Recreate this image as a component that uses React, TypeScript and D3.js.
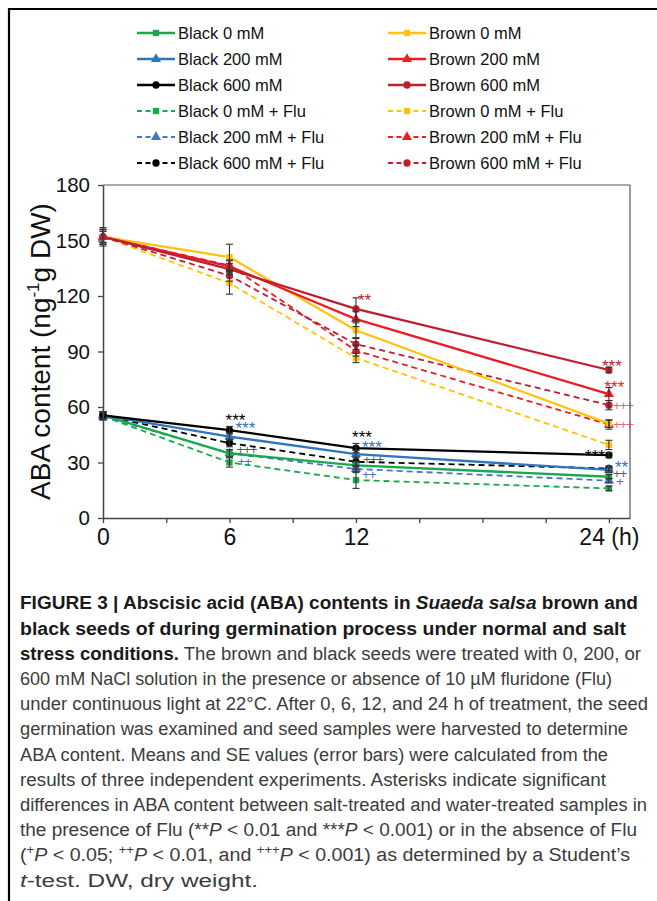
import React, { useRef, useEffect } from 'react'
import * as d3 from 'd3'

// time points (h) and axis ticks
const HOURS = [0, 6, 12, 24]
const X_TICKS = [0, 3, 6, 9, 12, 15, 18, 21, 24]
const X_TICK_LABELS = ['0', '', '6', '', '12', '', '', '', '24 (h)']
const Y_TICKS = [0, 30, 60, 90, 120, 150, 180]

// ABA content, ng/g DW (means)
const BLACK_0 = [55.5, 35, 28.5, 22.3]
const BLACK_200 = [55.5, 44, 34.5, 26]
const BLACK_600 = [55.5, 47.5, 37.8, 34]
const BLACK_0_FLU = [55, 30, 20.5, 16]
const BLACK_200_FLU = [55, 35, 26.5, 20.2]
const BLACK_600_FLU = [55.5, 40.5, 30.4, 26.8]
const BROWN_0 = [152, 141, 101.5, 51]
const BROWN_200 = [152, 136, 107.5, 67]
const BROWN_600 = [152, 134.5, 113, 80]
const BROWN_0_FLU = [152, 127, 86.5, 39.5]
const BROWN_200_FLU = [152, 136.5, 90.5, 50.5]
const BROWN_600_FLU = [152, 131, 94, 61]

// standard errors
const BLACK_0_SE = [2, 2, 2, 1.2]
const BLACK_200_SE = [2, 2, 2, 1.5]
const BLACK_600_SE = [2, 2, 2.5, 1.5]
const BLACK_0_FLU_SE = [2, 2.5, 4.5, 1.2]
const BLACK_200_FLU_SE = [2, 2, 2, 1.2]
const BLACK_600_FLU_SE = [2, 2, 2.5, 1.2]
const BROWN_0_SE = [5, 7, 4, 2]
const BROWN_200_SE = [4, 3, 4, 3.5]
const BROWN_600_SE = [4, 3, 6, 1.5]
const BROWN_0_FLU_SE = [4, 6, 2.5, 2.5]
const BROWN_200_FLU_SE = [3, 3, 3, 2.5]
const BROWN_600_FLU_SE = [3, 3, 3, 2.5]

const SERIES = [
  { name: 'Black 0 mM', values: BLACK_0, se: BLACK_0_SE },
  { name: 'Black 200 mM', values: BLACK_200, se: BLACK_200_SE },
  { name: 'Black 600 mM', values: BLACK_600, se: BLACK_600_SE },
  { name: 'Black 0 mM + Flu', values: BLACK_0_FLU, se: BLACK_0_FLU_SE },
  { name: 'Black 200 mM  + Flu', values: BLACK_200_FLU, se: BLACK_200_FLU_SE },
  { name: 'Black 600 mM  + Flu', values: BLACK_600_FLU, se: BLACK_600_FLU_SE },
  { name: 'Brown 0 mM', values: BROWN_0, se: BROWN_0_SE },
  { name: 'Brown 200 mM', values: BROWN_200, se: BROWN_200_SE },
  { name: 'Brown 600 mM', values: BROWN_600, se: BROWN_600_SE },
  { name: 'Brown 0 mM + Flu', values: BROWN_0_FLU, se: BROWN_0_FLU_SE },
  { name: 'Brown 200 mM + Flu', values: BROWN_200_FLU, se: BROWN_200_FLU_SE },
  { name: 'Brown 600 mM + Flu', values: BROWN_600_FLU, se: BROWN_600_FLU_SE },
]

// significance marks: series index, hour, mark
const SIG_SERIES = [2, 1, 5, 4, 2, 1, 5, 4, 8, 8, 7, 11, 10, 2, 1, 5, 4]
const SIG_HOURS = [6, 6, 6, 6, 12, 12, 12, 12, 12, 24, 24, 24, 24, 24, 24, 24, 24]
const SIG_MARKS = ['***', '***', '+++', '++', '***', '***', '+++', '++', '**', '***', '***', '+++', '+++', '***', '**', '++', '+']

// drawing style per series (same order as SERIES)
const STYLE = [
  { color: '#1aa84b', dash: false, shape: d3.symbolSquare },
  { color: '#2f76c0', dash: false, shape: d3.symbolTriangle },
  { color: '#000000', dash: false, shape: d3.symbolCircle },
  { color: '#1aa84b', dash: true, shape: d3.symbolSquare },
  { color: '#4a74c4', dash: true, shape: d3.symbolTriangle },
  { color: '#000000', dash: true, shape: d3.symbolCircle },
  { color: '#ffc20e', dash: false, shape: d3.symbolSquare },
  { color: '#ec1c24', dash: false, shape: d3.symbolTriangle },
  { color: '#be1e2d', dash: false, shape: d3.symbolCircle },
  { color: '#ffc20e', dash: true, shape: d3.symbolSquare },
  { color: '#ec1c24', dash: true, shape: d3.symbolTriangle },
  { color: '#be1e2d', dash: true, shape: d3.symbolCircle },
]
// label offset from its point (px) and anchor
const SIG_OFFSET = [
  [6, -14], [6, -12], [7, 6], [8, 8],
  [6, -15], [6, -11], [7, -3], [6, 5], [2, -13],
  [3, -8], [5.5, -11], [4, 0], [4, 0],
  [-4, -3], [6, -7], [4, 5], [7, 1],
]
const SIG_ANCHOR = ['middle', 'start', 'start', 'start', 'middle', 'start', 'start', 'start', 'start',
  'middle', 'middle', 'start', 'start', 'end', 'start', 'start', 'start']

const CAPTION = [
  [{ t: 'FIGURE 3 | Abscisic acid (ABA) contents in ', b: 1 }, { t: 'Suaeda salsa', b: 1, i: 1 }, { t: ' brown and', b: 1 }],
  [{ t: 'black seeds of during germination process under normal and salt', b: 1 }],
  [{ t: 'stress conditions.', b: 1 }, { t: ' The brown and black seeds were treated with 0, 200, or' }],
  [{ t: '600 mM NaCl solution in the presence or absence of 10 \u00b5M fluridone (Flu)' }],
  [{ t: 'under continuous light at 22\u00b0C. After 0, 6, 12, and 24 h of treatment, the seed' }],
  [{ t: 'germination was examined and seed samples were harvested to determine' }],
  [{ t: 'ABA content. Means and SE values (error bars) were calculated from the' }],
  [{ t: 'results of three independent experiments. Asterisks indicate significant' }],
  [{ t: 'differences in ABA content between salt-treated and water-treated samples in' }],
  [{ t: 'the presence of Flu (**' }, { t: 'P', i: 1 }, { t: ' < 0.01 and ***' }, { t: 'P', i: 1 }, { t: ' < 0.001) or in the absence of Flu' }],
  [{ t: '(' }, { t: '+', sup: 1 }, { t: 'P', i: 1 }, { t: ' < 0.05; ' }, { t: '++', sup: 1 }, { t: 'P', i: 1 }, { t: ' < 0.01, and ' }, { t: '+++', sup: 1 }, { t: 'P', i: 1 }, { t: ' < 0.001) as determined by a Student\u2019s' }],
  [{ t: 't', i: 1 }, { t: '-test. DW, dry weight.' }],
]
const CAPTION_WIDTHS = [618, 606, 621, 592, 628, 608, 588, 586, 627, 617, 610, 238]

const FONT = 'Liberation Sans, Arial, Helvetica, sans-serif'
const W = 657
const H = 901

export default function App() {
  const xAxisRef = useRef<SVGGElement>(null)
  const yAxisRef = useRef<SVGGElement>(null)

  const x = d3.scaleLinear().domain([0, 25]).range([103, 630])
  const y = d3.scaleLinear().domain([0, 180]).range([518, 185])

  useEffect(() => {
    const xa = d3.axisBottom(x).tickValues(X_TICKS).tickSize(5).tickSizeOuter(0).tickPadding(6)
      .tickFormat((d, i) => X_TICK_LABELS[i])
    const gx = d3.select(xAxisRef.current).call(xa as any)
    gx.selectAll('text').style('font-size', '23px').style('font-family', FONT).attr('fill', '#111')
    gx.selectAll('line').attr('stroke', '#444').attr('stroke-width', 1.3)
    gx.select('.domain').attr('stroke', '#444').attr('stroke-width', 1.5)

    const ya = d3.axisLeft(y).tickValues(Y_TICKS).tickSize(5).tickSizeOuter(0).tickPadding(8)
    const gy = d3.select(yAxisRef.current).call(ya as any)
    gy.selectAll('text').style('font-size', '20.5px').style('font-family', FONT).attr('fill', '#111')
    gy.selectAll('line').attr('stroke', '#444').attr('stroke-width', 1.3)
    gy.select('.domain').attr('stroke', '#444').attr('stroke-width', 1.5)
  }, [])

  const line = d3.line<number>().x((_, i) => x(HOURS[i])).y(d => y(d))
  const symbolPath = (shape: any, size: number) => d3.symbol().type(shape).size(size)() as string
  const markerSize = (shape: any) => (shape === d3.symbolCircle ? 42 : shape === d3.symbolTriangle ? 44 : 40)

  // dashed series first, solid on top
  const order = [3, 4, 5, 9, 10, 11, 0, 1, 2, 6, 7, 8]

  return (
    <div style={{ position: 'absolute', left: 0, top: 0 }}>
      <svg width={W} height={H} style={{ display: 'block', background: '#fff' }}>
        {/* figure frame */}
        <line x1={8} x2={W} y1={9} y2={9} stroke="#000" strokeWidth={2.2} />
        <line x1={9} x2={9} y1={8} y2={H} stroke="#000" strokeWidth={2.2} />

        {/* legend */}
        {SERIES.map((s, i) => {
          const col = i < 6 ? 0 : 1
          const row = i % 6
          const x0 = col === 0 ? 137 : 388
          const ly = 33 + row * 26
          const st = STYLE[i]
          return (
            <g key={'lg' + i}>
              <line x1={x0} x2={x0 + 38} y1={ly} y2={ly} stroke={st.color}
                strokeWidth={st.dash ? 2 : 2.4} strokeDasharray={st.dash ? '5,3.5' : undefined} />
              <path d={symbolPath(st.shape, markerSize(st.shape))} transform={`translate(${x0 + 19},${ly})`} fill={st.color} />
              <text x={x0 + 41} y={ly} dy="0.36em" fontFamily={FONT} fontSize={16.5} fill="#111">{s.name}</text>
            </g>
          )
        })}

        {/* plot box */}
        <line x1={x(0)} x2={x(25)} y1={y(180)} y2={y(180)} stroke="#555" strokeWidth={1.2} />
        <line x1={x(25)} x2={x(25)} y1={y(180)} y2={y(0)} stroke="#555" strokeWidth={1.2} />

        {/* lines */}
        {order.map(i => (
          <path key={'ln' + i} d={line(SERIES[i].values) as string} fill="none" stroke={STYLE[i].color}
            strokeWidth={STYLE[i].dash ? 1.8 : 2.3} strokeDasharray={STYLE[i].dash ? '6,4' : undefined} />
        ))}

        {/* markers */}
        {order.map(i => SERIES[i].values.map((v, j) => (
          <path key={'mk' + i + '-' + j} d={symbolPath(STYLE[i].shape, markerSize(STYLE[i].shape))}
            transform={`translate(${x(HOURS[j])},${y(v)})`} fill={STYLE[i].color} />
        )))}

        {/* error bars */}
        {order.map(i => SERIES[i].values.map((v, j) => {
          const cx = x(HOURS[j])
          const top = y(v + SERIES[i].se[j])
          const bot = y(v - SERIES[i].se[j])
          return (
            <g key={'eb' + i + '-' + j} stroke="#333" strokeWidth={1.1}>
              <line x1={cx} x2={cx} y1={top} y2={bot} />
              <line x1={cx - 3.5} x2={cx + 3.5} y1={top} y2={top} />
              <line x1={cx - 3.5} x2={cx + 3.5} y1={bot} y2={bot} />
            </g>
          )
        }))}

        {/* significance marks */}
        {SIG_MARKS.map((m, k) => {
          const si = SIG_SERIES[k]
          const j = HOURS.indexOf(SIG_HOURS[k])
          const px = x(SIG_HOURS[k]) + SIG_OFFSET[k][0]
          const py = y(SERIES[si].values[j]) + SIG_OFFSET[k][1]
          const isPlus = m[0] === '+'
          const faded = isPlus && (si === 5 || (SIG_HOURS[k] === 24 && si >= 6))
          return (
            <text key={'sg' + k} x={px} y={py} dy={isPlus ? '0.36em' : '0.57em'} textAnchor={SIG_ANCHOR[k]}
              fontFamily={FONT} fontSize={isPlus ? 13.5 : 17} fill={STYLE[si].color}
              letterSpacing={isPlus ? -1.2 : 0} opacity={faded ? 0.65 : 1}>{m}</text>
          )
        })}

        <g ref={xAxisRef} transform={`translate(0,${y(0)})`} />
        <g ref={yAxisRef} transform={`translate(${x(0)},0)`} />

        {/* y axis title */}
        <text transform={`translate(50,${(y(0) + y(180)) / 2}) rotate(-90)`} textAnchor="middle"
          fontFamily={FONT} fontSize={28} fill="#111">
          ABA content (ng<tspan fontSize={17} dy={-11}>-1</tspan><tspan dy={11}>g DW)</tspan>
        </text>

        {/* caption */}
        {CAPTION.map((segs, li) => (
          <text key={'cp' + li} x={20} y={603 + li * 25.2} dy="0.35em" fontFamily={FONT} fontSize={18}
            fill="#3c3c3c" textLength={CAPTION_WIDTHS[li]} lengthAdjust="spacingAndGlyphs">
            {segs.map((s: any, k: number) => (
              <tspan key={k} fontWeight={s.b ? 'bold' : 'normal'} fontStyle={s.i ? 'italic' : 'normal'}
                fill={s.b ? '#1a1a1a' : '#3c3c3c'} baselineShift={s.sup ? 'super' : undefined}
                fontSize={s.sup ? 12 : undefined}>{s.t}</tspan>
            ))}
          </text>
        ))}
      </svg>
    </div>
  )
}
